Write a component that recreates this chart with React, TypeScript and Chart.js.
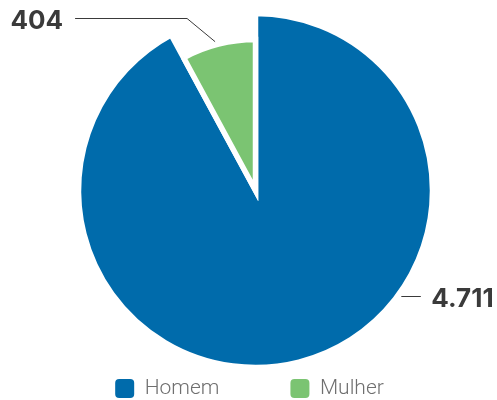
import React, { useEffect, useRef } from 'react';
import { Chart, registerables } from 'chart.js';

Chart.register(...registerables);

const categories: string[] = ['Homem', 'Mulher'];
const values: number[] = [4711, 404];
const valueLabels: string[] = ['4.711', '404'];
const colors: string[] = ['#006bab', '#7bc472'];

const BORDER = 5.5;
const GREEN_RATIO = 0.853;

const pieLabels = {
  id: 'pieLabels',
  afterDatasetsUpdate(chart: any) {
    const meta = chart.getDatasetMeta(0);
    const a0 = meta.data[0];
    const a1 = meta.data[1];
    if (a0 && a1) a1.outerRadius = a0.outerRadius * GREEN_RATIO;
  },
  afterDatasetsDraw(chart: any) {
    const ctx = chart.ctx as CanvasRenderingContext2D;
    const meta = chart.getDatasetMeta(0);
    const font = '700 26px Inter, Lato, sans-serif';
    ctx.save();
    ctx.strokeStyle = '#3a3a3a';
    ctx.fillStyle = '#3a3a3a';
    ctx.lineWidth = 1;
    ctx.font = font;
    ctx.textBaseline = 'alphabetic';
    const a0 = meta.data[0];
    if (a0) {
      const ang = (36 * Math.PI) / 180;
      const r = a0.outerRadius - BORDER / 2 + 6;
      const px = a0.x + Math.cos(ang) * r;
      const py = Math.round(a0.y + Math.sin(ang) * r) + 0.5;
      ctx.beginPath();
      ctx.moveTo(px, py);
      ctx.lineTo(px + 19.5, py);
      ctx.stroke();
      ctx.textAlign = 'left';
      ctx.fillText(valueLabels[0], px + 30, py + 10);
    }
    const a1 = meta.data[1];
    if (a1) {
      const ang = (a1.startAngle + a1.endAngle) / 2 - 0.017;
      const r = a1.outerRadius - BORDER / 2 + 6;
      const px = a1.x + Math.cos(ang) * r;
      const py = a1.y + Math.sin(ang) * r;
      const qx = px - 28;
      const qy = Math.round(py - 24) + 0.5;
      const ex = qx - 112;
      ctx.beginPath();
      ctx.moveTo(px, py);
      ctx.lineTo(qx, qy);
      ctx.lineTo(ex, qy);
      ctx.stroke();
      ctx.textAlign = 'right';
      ctx.fillText(valueLabels[1], ex - 12, qy + 10.5);
    }
    ctx.restore();
  },
};

export default function App() {
  const ref = useRef<HTMLCanvasElement | null>(null);
  useEffect(() => {
    if (!ref.current) return;
    const baseGen = (Chart as any).overrides.doughnut.plugins.legend.labels.generateLabels;
    const chart = new Chart(ref.current, {
      type: 'pie',
      data: {
        labels: categories,
        datasets: [
          {
            data: values,
            backgroundColor: colors,
            borderColor: '#ffffff',
            borderWidth: BORDER,
            borderJoinStyle: 'miter',
            clip: false,
          } as any,
        ],
      },
      options: {
        animation: false,
        responsive: false,
        maintainAspectRatio: false,
        radius: 177,
        layout: { padding: { left: 2, right: 0, top: 74, bottom: -9 } },
        plugins: {
          title: {
            display: true,
            position: 'left',
            text: '',
            padding: 0,
            font: { size: 12, lineHeight: 1 },
          },
          tooltip: { enabled: false },
          legend: {
            position: 'bottom',
            labels: {
              font: { family: 'Roboto, Lato, sans-serif', size: 21, weight: '300' },
              color: '#6f6f6f',
              boxWidth: 19,
              boxHeight: 19,
              useBorderRadius: true,
              borderRadius: 4,
              padding: 71,
              generateLabels: (c: any) =>
                baseGen(c).map((l: any) => ({ ...l, lineWidth: 0, strokeStyle: 'rgba(0,0,0,0)' })),
            },
          },
        },
      } as any,
      plugins: [pieLabels],
    });
    return () => chart.destroy();
  }, []);
  return (
    <div style={{ position: 'absolute', left: 0, top: 0, width: 497, height: 400 }}>
      <canvas ref={ref} width={497} height={400} style={{ width: 497, height: 400 }} />
    </div>
  );
}
